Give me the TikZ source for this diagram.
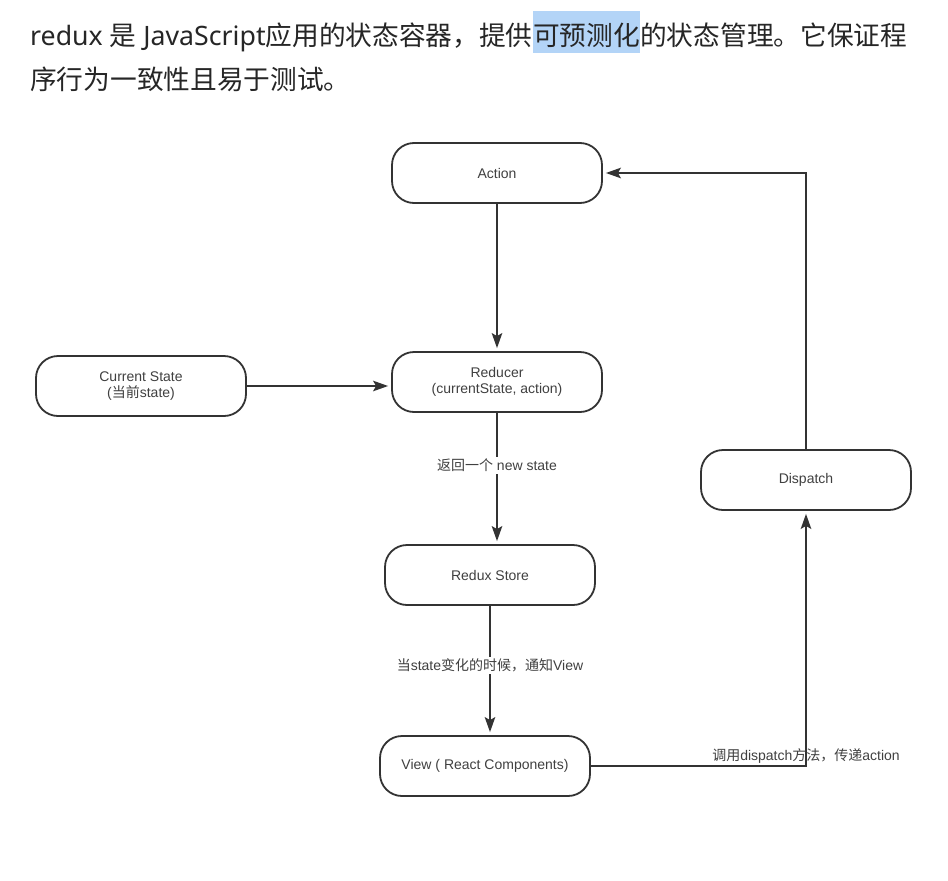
\documentclass[tikz,border=0pt]{standalone}
\usepackage{fontspec}
\setmainfont{Liberation Sans}
\newfontfamily\cjk{Noto Sans CJK SC}
\newfontfamily\hdf{Noto Sans}
\usepackage{tikz}
\usetikzlibrary{calc,arrows.meta}
\definecolor{sline}{HTML}{333333}
\definecolor{stext}{HTML}{404040}
\definecolor{shead}{HTML}{262626}
\definecolor{shl}{HTML}{B3D4F7}
\newcommand{\zhs}[1]{{\cjk #1}}

\begin{document}
\begin{tikzpicture}[x=1pt, y=-1pt,
    RBX/.style={draw=sline, fill=white, line width=1.8pt, rectangle, rounded corners=22pt, minimum width=210pt, minimum height=60pt, align=center, text=stext, font=\fontsize{14}{15.5}\selectfont},
    LNK/.style={draw=sline, line width=1.8pt, ->, >={Stealth[length=15pt,width=10.5pt,inset=3pt]}},
    LBL/.style={text=stext, font=\fontsize{14}{16}\selectfont, inner sep=2pt},
    HDR/.style={inner sep=0pt, text=shead, font=\hdf\fontsize{26.7}{30}\selectfont}
    ]
    \useasboundingbox[fill=white] (0,0) rectangle (948,881);
        \node[HDR, anchor=base west] (h1) at (30,45) {redux \zhs{是} JavaScript\zhs{应用的状态容器，提供}};
        \node[HDR, anchor=base west, fill=shl, text height=34pt, text depth=8pt] (hl) at (h1.base east) {\zhs{可预测化}};
        \node[HDR, anchor=base west] (h2) at (hl.base east) {\zhs{的状态管理。它保证程}};
        \node[HDR, anchor=base west] (h3) at (30,89) {\zhs{序行为一致性且易于测试。}};
        \node[RBX] (AC) at (497,173) {Action};
        \node[RBX] (RD) at (497,382) {Reducer\\(currentState, action)};
        \node[RBX] (CS) at (141,386) {Current State\\(\zhs{当前}state)};
        \node[RBX] (RS) at (490,575) {Redux Store};
        \node[RBX] (VW) at (485,766) {View ( React Components)};
        \node[RBX] (DP) at (806,480) {Dispatch};
        \draw[LNK] (AC.south) -- ($(RD.north)+(0,-3)$);
        \draw[LNK] (CS.east) -- ($(CS.east -| RD.west)+(-3,0)$);
        \draw[LNK] (RD.south) -- ($(RD.south |- RS.north)+(0,-3)$) node[LBL, pos=0.41, fill=white] {\zhs{返回一个} new state};
        \draw[LNK] (RS.south) -- ($(RS.south |- VW.north)+(0,-3)$) node[LBL, pos=0.47, fill=white] {\zhs{当}state\zhs{变化的时候，通知}View};
        \draw[LNK] (VW.east) -| ($(DP.south)+(0,3)$) node[LBL, pos=0.5, anchor=south] {\zhs{调用}dispatch\zhs{方法，传递}action};
        \draw[LNK] (DP.north) |- ($(AC.east)+(3,0)$);
    \end{tikzpicture}
\end{document}
